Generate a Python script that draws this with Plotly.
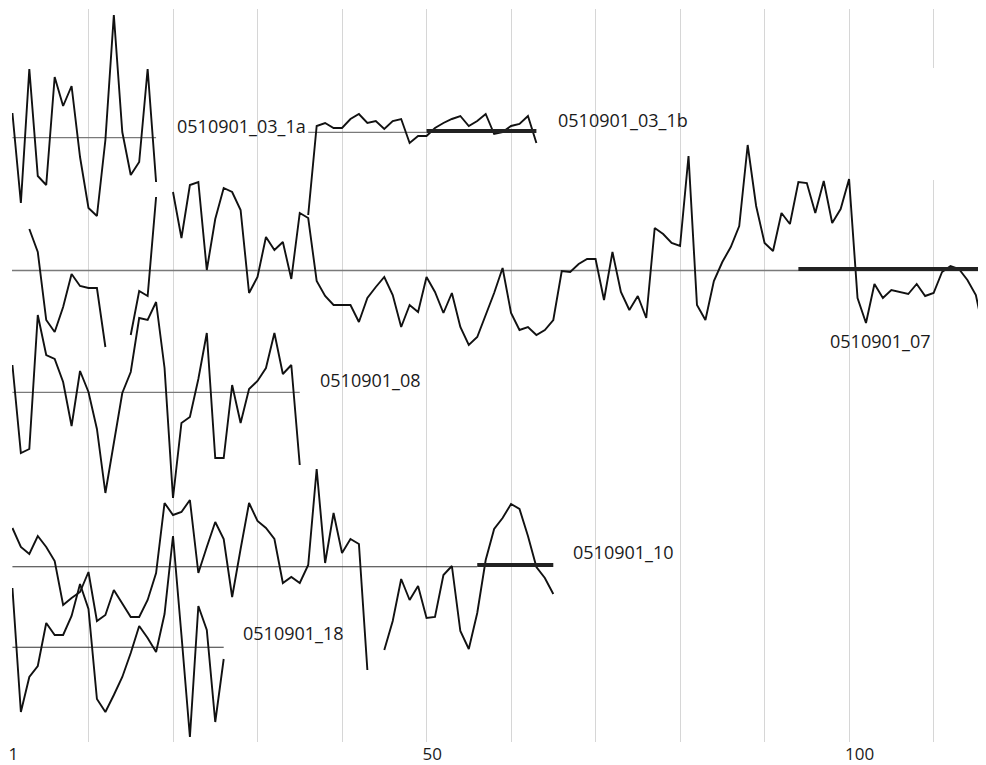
import plotly.graph_objects as go

# ---- axis ticks / grid ----
GRID_X = [1, 10, 20, 30, 40, 50, 60, 70, 80, 90, 100, 110]
GRID_TEXT = ["1", "", "", "", "", "50", "", "", "", "", "100", ""]

# ---- profile values (None = missing position) ----
# 0510901_03_1a, first block (positions 1..18)
s03_1a_start = 1
s03_1a = [629, 539, 673, 566, 557, 665, 636, 656, 585, 534, 526, 602, 727, 610,
          567, 580, 673, 560]

# 0510901_03_1b block (positions 36..63)
s03_1b_start = 36
s03_1b = [527, 616, 619, 614, 614, 623, 628, 619, 621, 613, 621, 623, 599, 606,
          606, 614, 619, 623, 626, 616, 621, 628, 608, 610, 616, 618, 626, 599]

# 0510901_07 (positions 3..116)
s07_start = 3
s07 = [513, 490, 422, 410, 435, 468, 456, 454, 454, 395, None, None, 407, 451,
       446, 545, None, 550, 504, 557, 560, 472, 523, 554, 550, 532, 449, 465,
       505, 492, 500, 463, 529, 524, 461, 446, 437, 437, 437, 420, 444, 455,
       465, 447, 415, 437, 430, 465, 450, 429, 449, 415, 397, 405, 427, 449,
       474, 429, 412, 415, 407, 412, 422, 471, 470, 478, 483, 483, 442, 490,
       450, 432, 446, 424, 514, 508, 499, 496, 586, 437, 422, 461, 480, 495,
       516, 597, 536, 499, 491, 529, 518, 560, 559, 529, 561, 519, 533, 563,
       444, 419, 458, 444, 452, 450, 448, 458, 446, 449, 470, 476, 473, 462,
       447, 407]

# 0510901_08 (positions 1..35)
s08_start = 1
s08 = [377, 289, 293, 427, 387, 383, 360, 316, 371, 350, 313, 249, 299, 349,
       370, 424, 422, 440, 374, 244, 319, 325, 363, 409, 284, 284, 357, 319,
       353, 361, 374, 409, 368, 377, 277]

# 0510901_10 (positions 1..65)
s10_start = 1
s10 = [214, 195, 188, 206, 195, 181, 137, 144, 150, 170, 121, 127, 152, 139,
       125, 125, 142, 169, 239, 227, 230, 242, 169, 195, 220, 203, 145, 193,
       239, 221, 214, 203, 159, 165, 159, 177, 273, 179, 229, 189, 203, 198,
       72, None, 92, 121, 163, 142, 156, 124, 125, 167, 176, 111, 93, 129,
       182, 213, 224, 238, 233, 206, 175, 164, 148]

# 0510901_18 (positions 1..26)
s18_start = 1
s18 = [154, 30, 65, 76, 119, 107, 107, 126, 158, 133, 43, 30, 47, 65, 89, 116,
       104, 90, 128, 206, 107, 5, 136, 112, 20, 83]

# ---- track baselines: (level, from, to, colour, width) ----
base_thin = [
    (604.3, 1, 18, "#7a7a7a", 1.3),
    (609.7, 36, 50, "#7a7a7a", 1.3),
    (471.5, 0.95, 116.2, "#7a7a7a", 1.3),
    (349.7, 1, 35, "#7a7a7a", 1.3),
    (175.3, 1, 56, "#333333", 1.1),
    (94.7, 1, 26, "#333333", 1.1),
]
base_thick = [
    (611, 50, 63),
    (473, 94, 116.2),
    (177, 56, 65),
]

# ---- labels: (text, x, y, anchor) ----
labels = [
    ("0510901_03_1a", 35.95, 616, "right"),
    ("0510901_03_1b", 65.3, 622, "left"),
    ("0510901_07", 97.5, 401, "left"),
    ("0510901_08", 37.1, 362, "left"),
    ("0510901_10", 67.1, 190, "left"),
    ("0510901_18", 28.0, 109, "left"),
]

fig = go.Figure()

for lvl, x0, x1, col, w in base_thin:
    fig.add_trace(go.Scatter(x=[x0, x1], y=[lvl, lvl], mode="lines",
                             line=dict(color=col, width=w), hoverinfo="skip"))

series = [(s03_1a_start, s03_1a), (s03_1b_start, s03_1b), (s07_start, s07),
          (s08_start, s08), (s10_start, s10), (s18_start, s18)]
for start, vals in series:
    xs = list(range(start, start + len(vals)))
    fig.add_trace(go.Scatter(x=xs, y=vals, mode="lines", connectgaps=False,
                             line=dict(color="#111111", width=1.9)))

for lvl, x0, x1 in base_thick:
    fig.add_trace(go.Scatter(x=[x0, x1], y=[lvl, lvl], mode="lines",
                             line=dict(color="#222222", width=4.2), hoverinfo="skip"))

for txt, x, y, anc in labels:
    fig.add_annotation(x=x, y=y, text=txt, showarrow=False, xanchor=anc,
                       yanchor="middle",
                       font=dict(family="Open Sans", size=18, color="#1a1a1a"))

# gap in the last grid line near the top
fig.add_shape(type="rect", x0=109.6, x1=110.4, y0=562, y1=674, layer="between",
              fillcolor="white", line=dict(width=0))

fig.update_layout(
    width=978, height=757,
    margin=dict(l=4, r=0, t=1, b=23),
    paper_bgcolor="white", plot_bgcolor="white",
    showlegend=False,
    xaxis=dict(range=[0.95, 116.2], tickvals=GRID_X, ticktext=GRID_TEXT,
               showgrid=True, gridcolor="#d6d6d6", gridwidth=1,
               zeroline=False, showline=False, ticks="",
               ticklabelposition="outside right", ticklabelshift=-4,
               tickfont=dict(family="Open Sans", size=17, color="#1a1a1a")),
    yaxis=dict(range=[0, 733], showgrid=False, zeroline=False,
               showticklabels=False, showline=False, ticks=""),
)

fig.write_html("out.html")
